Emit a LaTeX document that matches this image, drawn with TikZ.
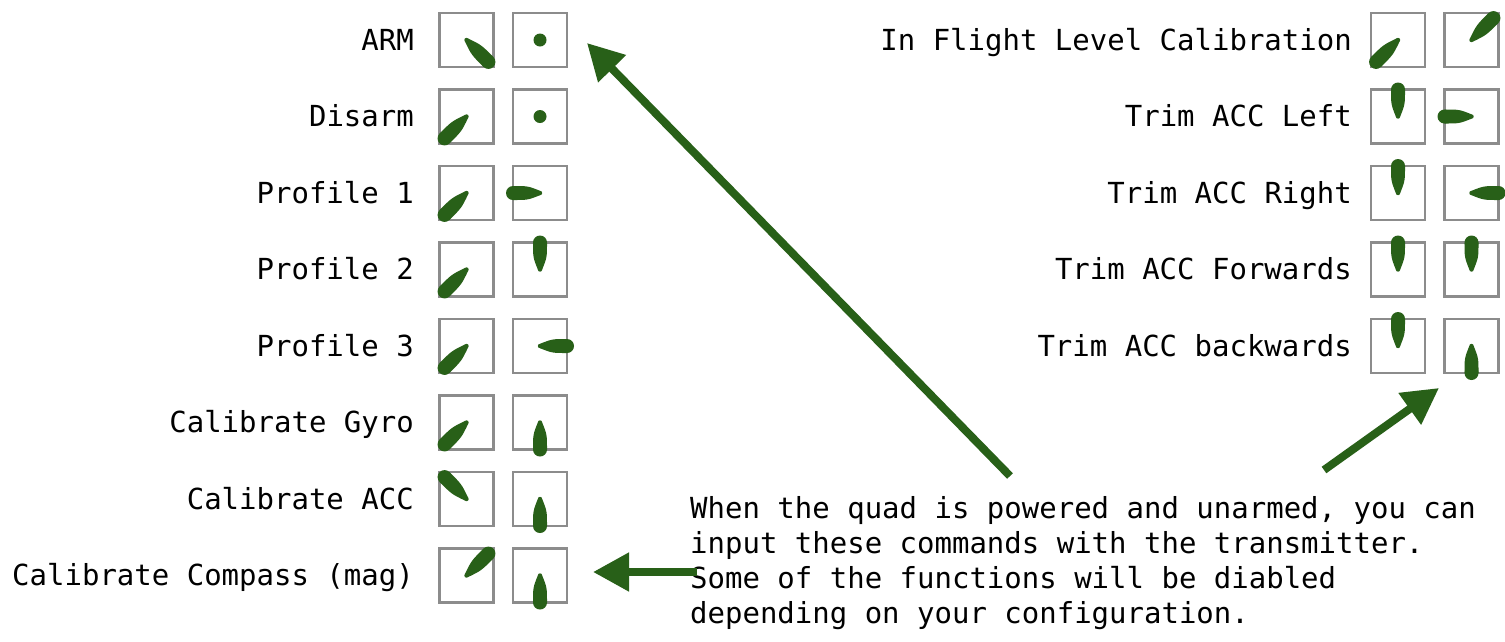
\documentclass[tikz,border=0pt]{standalone}
\usepackage{fontspec}
\newfontfamily\monofont{DejaVu Sans Mono}
\usetikzlibrary{arrows.meta}
\definecolor{stickgreen}{RGB}{40,96,24}
\definecolor{boxgray}{RGB}{140,140,140}
\begin{document}
\begin{tikzpicture}[x=1pt,y=-1pt,
  box/.style={draw=boxgray,line width=2.2pt,minimum size=54pt,inner sep=0pt,outer sep=0pt},
  lbl/.style={font=\monofont\fontsize{29}{35}\selectfont,inner sep=0pt,text=black},
  stick/.pic={
    \fill[stickgreen] (0,-2.2) .. controls ({0.45*#1},-7) .. (#1,-7) -- (#1,7)
       .. controls ({0.45*#1},7) .. (0,2.2) -- cycle;
    \fill[stickgreen] (#1,0) circle[radius=7];
    \fill[stickgreen] (0,0) circle[radius=2.2];
  },
  dot/.style={fill=stickgreen,circle,minimum size=13pt,inner sep=0pt},
  arr/.style={draw=stickgreen,line width=8pt,-{Triangle[length=36pt,width=37pt]}}
]
\useasboundingbox[fill=white] (0,0) rectangle (1505,641);

% ---------- left column ----------
\node[lbl,anchor=base east] (t1) at (414,50) {ARM};
\node[lbl,anchor=base east] (t2) at (414,126.5) {Disarm};
\node[lbl,anchor=base east] (t3) at (414,203) {Profile 1};
\node[lbl,anchor=base east] (t4) at (414,279.5) {Profile 2};
\node[lbl,anchor=base east] (t5) at (414,356) {Profile 3};
\node[lbl,anchor=base east] (t6) at (414,432.5) {Calibrate Gyro};
\node[lbl,anchor=base east] (t7) at (414,509) {Calibrate ACC};
\node[lbl,anchor=base east] (t8) at (414,585.5) {Calibrate Compass (mag)};

\node[box] (L1a) at (466.5,40) {};    \node[box] (L1b) at (540,40) {};
\node[box] (L2a) at (466.5,116.5) {}; \node[box] (L2b) at (540,116.5) {};
\node[box] (L3a) at (466.5,193) {};   \node[box] (L3b) at (540,193) {};
\node[box] (L4a) at (466.5,269.5) {}; \node[box] (L4b) at (540,269.5) {};
\node[box] (L5a) at (466.5,346) {};   \node[box] (L5b) at (540,346) {};
\node[box] (L6a) at (466.5,422.5) {}; \node[box] (L6b) at (540,422.5) {};
\node[box] (L7a) at (466.5,499) {};   \node[box] (L7b) at (540,499) {};
\node[box] (L8a) at (466.5,575.5) {}; \node[box] (L8b) at (540,575.5) {};

\pic[rotate=315] at (L1a.center) {stick=31};
\node[dot] (d1) at (L1b.center) {};
\pic[rotate=225] at (L2a.center) {stick=31};
\node[dot] (d2) at (L2b.center) {};
\pic[rotate=225] at (L3a.center) {stick=31};
\pic[rotate=180] at (L3b.center) {stick=27};
\pic[rotate=225] at (L4a.center) {stick=31};
\pic[rotate=90] at (L4b.center) {stick=27};
\pic[rotate=225] at (L5a.center) {stick=31};
\pic[rotate=0] at (L5b.center) {stick=27};
\pic[rotate=225] at (L6a.center) {stick=31};
\pic[rotate=270] at (L6b.center) {stick=27};
\pic[rotate=135] at (L7a.center) {stick=31};
\pic[rotate=270] at (L7b.center) {stick=27};
\pic[rotate=45] at (L8a.center) {stick=31};
\pic[rotate=270] at (L8b.center) {stick=27};

% ---------- right column ----------
\node[lbl,anchor=base east] (r1) at (1352,50) {In Flight Level Calibration};
\node[lbl,anchor=base east] (r2) at (1352,126.5) {Trim ACC Left};
\node[lbl,anchor=base east] (r3) at (1352,203) {Trim ACC Right};
\node[lbl,anchor=base east] (r4) at (1352,279.5) {Trim ACC Forwards};
\node[lbl,anchor=base east] (r5) at (1352,356) {Trim ACC backwards};

\node[box] (R1a) at (1398,40) {};    \node[box] (R1b) at (1471.5,40) {};
\node[box] (R2a) at (1398,116.5) {}; \node[box] (R2b) at (1471.5,116.5) {};
\node[box] (R3a) at (1398,193) {};   \node[box] (R3b) at (1471.5,193) {};
\node[box] (R4a) at (1398,269.5) {}; \node[box] (R4b) at (1471.5,269.5) {};
\node[box] (R5a) at (1398,346) {};   \node[box] (R5b) at (1471.5,346) {};

\pic[rotate=225] at (R1a.center) {stick=31};
\pic[rotate=45] at (R1b.center) {stick=31};
\pic[rotate=90] at (R2a.center) {stick=27};
\pic[rotate=180] at (R2b.center) {stick=27};
\pic[rotate=90] at (R3a.center) {stick=27};
\pic[rotate=0] at (R3b.center) {stick=27};
\pic[rotate=90] at (R4a.center) {stick=27};
\pic[rotate=90] at (R4b.center) {stick=27};
\pic[rotate=90] at (R5a.center) {stick=27};
\pic[rotate=270] at (R5b.center) {stick=27};

% ---------- note ----------
\node[lbl,anchor=base west,align=left] (note) at (690,623)
  {When the quad is powered and unarmed, you can\\
   input these commands with the transmitter.\\
   Some of the functions will be diabled\\
   depending on your configuration.};

% ---------- arrows ----------
\coordinate (a1s) at (1010,476);
\coordinate (a1e) at (587,43);
\coordinate (a2s) at (1324,470);
\coordinate (a2e) at (1439,388);
\coordinate (a3s) at (697,572);
\coordinate (a3e) at (593,572);
\draw[arr] (a1s) -- (a1e);
\draw[arr] (a2s) -- (a2e);
\draw[arr] (a3s) -- (a3e);
\end{tikzpicture}
\end{document}
